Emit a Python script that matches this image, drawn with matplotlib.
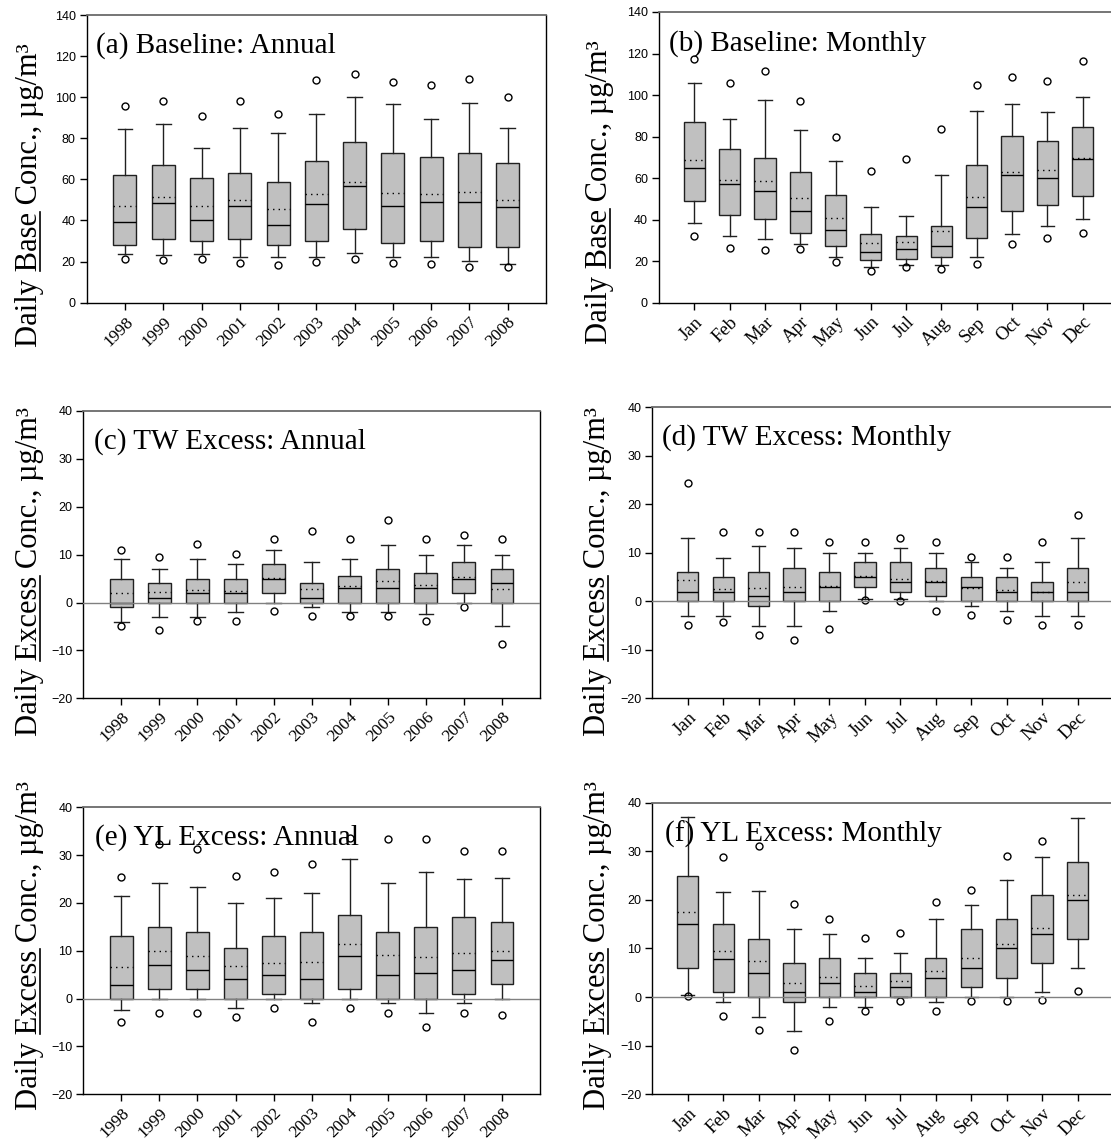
import matplotlib
matplotlib.use("Agg")
import matplotlib.pyplot as plt
from matplotlib.lines import Line2D
import matplotlib.transforms as mtransforms
import numpy as np

years = ['1998', '1999', '2000', '2001', '2002', '2003', '2004', '2005', '2006', '2007', '2008']
months = ['Jan', 'Feb', 'Mar', 'Apr', 'May', 'Jun', 'Jul', 'Aug', 'Sep', 'Oct', 'Nov', 'Dec']

# (a) Baseline: Annual
a_whislo = [23.7, 23.0, 23.7, 22.1, 22.1, 22.1, 24.0, 22.1, 22.1, 20.1, 18.8]
a_q1 = [28.1, 31.1, 30.2, 30.8, 28.1, 30.2, 35.9, 29.0, 30.2, 27.1, 26.9]
a_med = [39.1, 48.3, 40.1, 47.0, 38.0, 48.2, 56.9, 47.2, 49.2, 49.2, 46.6]
a_mean = [47.2, 51.6, 46.9, 49.8, 45.4, 52.9, 58.9, 53.2, 52.7, 53.7, 49.8]
a_q3 = [62.1, 67.2, 60.5, 62.9, 58.9, 69.1, 78.4, 73.0, 71.1, 73.0, 68.1]
a_whishi = [84.5, 87.1, 75.1, 84.8, 82.4, 92.0, 100.3, 96.5, 89.2, 97.0, 85.2]
a_out_lo = [21.4, 20.6, 21.4, 19.5, 18.5, 19.8, 21.4, 19.5, 18.8, 17.5, 17.5]
a_out_hi = [95.9, 98.3, 91.0, 98.0, 92.0, 108.5, 111.1, 107.2, 105.9, 109.0, 100.3]

# (b) Baseline: Monthly
b_whislo = [38.2, 32.1, 30.6, 28.1, 22.0, 17.0, 18.1, 18.1, 22.0, 33.2, 37.0, 40.1]
b_q1 = [49.1, 42.0, 40.1, 33.7, 27.1, 20.8, 21.0, 22.1, 31.4, 44.1, 47.1, 51.3]
b_med = [65.1, 57.1, 54.0, 44.1, 35.1, 24.2, 26.1, 27.1, 46.0, 61.3, 60.1, 69.1]
b_mean = [68.8, 58.9, 58.5, 50.5, 40.7, 28.9, 29.3, 34.5, 51.0, 62.9, 64.1, 69.8]
b_q3 = [87.1, 74.2, 69.8, 63.0, 52.1, 33.0, 32.1, 37.0, 66.5, 80.2, 78.1, 84.8]
b_whishi = [105.7, 88.7, 97.7, 83.2, 68.3, 46.2, 41.9, 61.3, 92.2, 95.9, 92.0, 99.1]
b_out_lo = [32.2, 26.3, 25.5, 26.0, 19.6, 15.4, 17.3, 16.4, 18.4, 28.5, 31.4, 33.5]
b_out_hi = [117.2, 105.7, 111.6, 97.2, 79.7, 63.5, 69.4, 83.7, 105.0, 108.7, 106.6, 116.4]

# (c) TW Excess: Annual
c_whislo = [-4.0, -3.0, -3.0, -2.0, 0.0, -1.0, -2.0, -2.0, -2.3, 0.0, -5.0]
c_q1 = [-1.0, 0.0, 0.0, 0.0, 2.0, 0.0, 0.0, 0.0, 0.0, 2.0, 0.0]
c_med = [0.0, 1.0, 2.0, 2.0, 5.0, 1.0, 3.0, 3.0, 3.0, 5.0, 4.0]
c_mean = [1.9, 2.1, 2.6, 2.4, 5.1, 2.9, 3.5, 4.4, 3.7, 5.4, 2.8]
c_q3 = [5.0, 4.0, 5.0, 5.0, 8.0, 4.0, 5.5, 7.0, 6.2, 8.5, 7.0]
c_whishi = [9.0, 7.0, 9.0, 8.0, 11.0, 8.4, 9.0, 12.0, 10.0, 12.0, 10.0]
c_out_lo = [-4.8, -5.8, -3.9, -3.9, -1.7, -2.8, -2.8, -2.8, -3.9, -0.9, -8.7]
c_out_hi = [11.0, 9.6, 12.2, 10.1, 13.2, 14.9, 13.2, 17.2, 13.2, 14.2, 13.2]

# (d) TW Excess: Monthly
d_whislo = [-3.0, -3.0, -5.0, -5.0, -2.0, 0.5, 0.5, 0.0, -1.0, -2.0, -3.0, -3.0]
d_q1 = [0.0, 0.0, -1.0, 0.0, 0.0, 3.0, 2.0, 1.0, 0.0, 0.0, 0.0, 0.0]
d_med = [2.0, 2.0, 1.0, 2.0, 3.0, 5.0, 4.0, 4.0, 3.0, 2.0, 2.0, 2.0]
d_mean = [4.4, 2.5, 2.7, 2.9, 3.1, 5.2, 4.7, 4.2, 2.8, 2.4, 2.0, 3.9]
d_q3 = [6.0, 5.0, 6.0, 6.9, 6.0, 8.0, 8.0, 6.9, 5.0, 5.0, 4.0, 6.9]
d_whishi = [13.0, 9.0, 11.5, 11.0, 10.0, 10.0, 11.0, 10.0, 8.0, 6.9, 8.0, 13.0]
d_out_lo = [-4.9, -4.3, -6.9, -7.9, -5.8, 0.2, 0.1, -1.9, -2.9, -3.9, -4.9, -4.9]
d_out_hi = [24.3, 14.2, 14.2, 14.2, 12.2, 12.2, 13.0, 12.2, 9.2, 9.2, 12.3, 17.7]

# (e) YL Excess: Annual
e_whislo = [-2.4, 0.0, 0.0, -2.0, 0.0, -1.0, 0.0, -1.0, -3.0, -1.0, 0.0]
e_q1 = [0.0, 2.0, 2.0, 0.0, 1.0, 0.0, 2.0, 0.0, 0.0, 1.0, 3.0]
e_med = [2.9, 7.0, 6.0, 4.0, 5.0, 4.0, 8.9, 5.0, 5.4, 6.0, 8.0]
e_mean = [6.6, 10.0, 8.9, 6.8, 7.5, 7.6, 11.4, 9.1, 8.6, 9.6, 9.9]
e_q3 = [13.0, 15.0, 14.0, 10.5, 13.0, 14.0, 17.5, 14.0, 15.0, 17.0, 16.0]
e_whishi = [21.4, 24.1, 23.4, 20.0, 21.1, 22.1, 29.1, 24.1, 26.4, 25.1, 25.3]
e_out_lo = [-4.9, -2.9, -2.9, -3.9, -1.9, -4.9, -1.9, -2.9, -6.0, -2.9, -3.5]
e_out_hi = [25.4, 32.3, 31.3, 25.7, 26.4, 28.2, 33.6, 33.3, 33.3, 30.9, 30.9]

# (f) YL Excess: Monthly
f_whislo = [0.5, -1.0, -4.0, -7.0, -2.0, -2.0, 0.0, -1.0, 0.0, 0.0, 1.0, 6.0]
f_q1 = [6.0, 1.0, 0.0, -1.0, 0.0, 0.0, 0.0, 0.0, 2.0, 4.0, 7.0, 12.0]
f_med = [15.0, 7.9, 5.0, 1.0, 3.0, 1.0, 2.0, 4.0, 6.0, 10.0, 12.9, 19.9]
f_mean = [17.5, 9.5, 7.5, 2.8, 4.2, 2.3, 3.4, 5.3, 8.0, 10.9, 14.2, 21.1]
f_q3 = [24.9, 15.0, 12.0, 7.0, 8.0, 5.0, 5.0, 8.0, 14.0, 16.0, 21.0, 27.9]
f_whishi = [37.1, 21.6, 21.9, 14.1, 12.9, 8.0, 9.0, 16.0, 18.9, 24.0, 28.9, 36.9]
f_out_lo = [0.15, -3.8, -6.8, -10.8, -4.9, -2.8, -0.8, -2.8, -0.8, -0.8, -0.6, 1.2]
f_out_hi = [None, 28.9, 31.1, 19.2, 16.1, 12.1, 13.2, 19.5, 22.1, 29.1, 32.1, None]

titles = ['(a) Baseline: Annual', '(b) Baseline: Monthly', '(c) TW Excess: Annual',
          '(d) TW Excess: Monthly', '(e) YL Excess: Annual', '(f) YL Excess: Monthly']


def make_stats(wlo, q1, med, mean, q3, whi, olo, ohi):
    stats = []
    for i in range(len(med)):
        fl = [v for v in (olo[i], ohi[i]) if v is not None]
        stats.append(dict(whislo=wlo[i], q1=q1[i], med=med[i], mean=mean[i],
                          q3=q3[i], whishi=whi[i], fliers=np.array(fl)))
    return stats


W, H = 1111, 1142
fig = plt.figure(figsize=(W / 100, H / 100), dpi=100)


def px_axes(left, top, right, bottom):
    return fig.add_axes([left / W, 1 - bottom / H, (right - left) / W, (bottom - top) / H])


SERIF = 'Liberation Serif'
SANS = 'Liberation Sans'


def draw(ax, labels, stats, ylim, yticks, title, zero, tx, ty, xfs):
    pos = np.arange(1, len(labels) + 1)
    ax.bxp(stats, positions=pos, widths=0.6, capwidths=0.38, patch_artist=True,
           showmeans=True, meanline=True, showfliers=True,
           boxprops=dict(facecolor='#c0c0c0', edgecolor='#202020', linewidth=1.0),
           medianprops=dict(color='#000000', linewidth=1.0),
           meanprops=dict(color='#000000', linestyle=(0, (1, 3)), linewidth=1.0),
           whiskerprops=dict(color='#202020', linewidth=1.0),
           capprops=dict(color='#202020', linewidth=1.0),
           flierprops=dict(marker='o', markerfacecolor='none', markeredgecolor='black',
                           markersize=5, markeredgewidth=1.0))
    if zero:
        ax.axhline(0, color='#808080', linewidth=1.0, zorder=4)
    ax.set_xlim(0, len(labels) + 1)
    ax.set_ylim(*ylim)
    ax.set_yticks(yticks)
    ax.set_xticks(pos)
    ax.set_xticklabels(labels, rotation=45, ha='right', va='top', rotation_mode='anchor',
                       family=SERIF, fontsize=xfs)
    shift = mtransforms.ScaledTranslation(4 / 72, 1.5 / 72, fig.dpi_scale_trans)
    for lab in ax.get_xticklabels():
        lab.set_transform(lab.get_transform() + shift)
    for lab in ax.get_yticklabels():
        lab.set_family(SANS)
        lab.set_fontsize(9)
    ax.tick_params(direction='out', length=5, width=1, color='black')
    ax.tick_params(axis='x', pad=3)
    ax.tick_params(axis='y', pad=3)
    for s in ['left', 'bottom', 'right']:
        ax.spines[s].set_color('black')
        ax.spines[s].set_linewidth(1.0)
    ax.spines['top'].set_color('#6a6a6a')
    ax.spines['top'].set_linewidth(1.3)
    ax.text(tx, ty, title, transform=ax.transAxes, family=SERIF, fontsize=21,
            ha='left', va='baseline', zorder=10)


ax_a = px_axes(86.7, 15, 546, 302.7)
ax_b = px_axes(659, 12, 1118, 302.7)
ax_c = px_axes(83.3, 411, 540, 698.3)
ax_d = px_axes(652.3, 407.3, 1113, 698.3)
ax_e = px_axes(83.3, 807.3, 540, 1094.3)
ax_f = px_axes(652.3, 802.7, 1113, 1094.3)

YF, MF = 12.5, 13.5
draw(ax_a, years, make_stats(a_whislo, a_q1, a_med, a_mean, a_q3, a_whishi, a_out_lo, a_out_hi),
     (0, 140), range(0, 141, 20), titles[0], False, 0.02, 0.868, YF)
draw(ax_b, months, make_stats(b_whislo, b_q1, b_med, b_mean, b_q3, b_whishi, b_out_lo, b_out_hi),
     (0, 140), range(0, 141, 20), titles[1], False, 0.022, 0.868, MF)
draw(ax_c, years, make_stats(c_whislo, c_q1, c_med, c_mean, c_q3, c_whishi, c_out_lo, c_out_hi),
     (-20, 40), range(-20, 41, 10), titles[2], True, 0.024, 0.870, YF)
draw(ax_d, months, make_stats(d_whislo, d_q1, d_med, d_mean, d_q3, d_whishi, d_out_lo, d_out_hi),
     (-20, 40), range(-20, 41, 10), titles[3], True, 0.022, 0.870, MF)
draw(ax_e, years, make_stats(e_whislo, e_q1, e_med, e_mean, e_q3, e_whishi, e_out_lo, e_out_hi),
     (-20, 40), range(-20, 41, 10), titles[4], True, 0.026, 0.871, YF)
draw(ax_f, months, make_stats(f_whislo, f_q1, f_med, f_mean, f_q3, f_whishi, f_out_lo, f_out_hi),
     (-20, 40), range(-20, 41, 10), titles[5], True, 0.0275, 0.866, MF)

# y labels (with underlined keyword)
YFS = 22
ylabels = [
    (30, 195, 'Daily ', 'Base', ' Conc., \u00b5g/m\u00b3'),
    (600, 192, 'Daily ', 'Base', ' Conc., \u00b5g/m\u00b3'),
    (30, 572, 'Daily ', 'Excess', ' Conc., \u00b5g/m\u00b3'),
    (598, 572, 'Daily ', 'Excess', ' Conc., \u00b5g/m\u00b3'),
    (30, 945, 'Daily ', 'Excess', ' Conc., \u00b5g/m\u00b3'),
    (598, 945, 'Daily ', 'Excess', ' Conc., \u00b5g/m\u00b3'),
]
texts = []
for x, y, pre, word, post in ylabels:
    t = fig.text(x / W, 1 - y / H, pre + word + post, rotation=90, ha='center', va='center',
                 family=SERIF, fontsize=YFS)
    texts.append((t, pre, word))

fig.canvas.draw()
r = fig.canvas.get_renderer()
em = YFS * fig.dpi / 72.0
for t, pre, word in texts:
    bb = t.get_window_extent(r)
    prop = t.get_fontproperties()
    w_full, _, _ = r.get_text_width_height_descent(pre + word, prop, ismath=False)
    w_word, _, _ = r.get_text_width_height_descent(word, prop, ismath=False)
    _, _, d = r.get_text_width_height_descent('lp', prop, ismath=False)
    ys0 = bb.y0 + (w_full - w_word)
    ys1 = bb.y0 + w_full
    xb = bb.x1 - d + 0.09 * em
    p = fig.transFigure.inverted().transform([(xb, ys0), (xb, ys1)])
    fig.add_artist(Line2D(p[:, 0], p[:, 1], color='black', linewidth=1.2,
                          transform=fig.transFigure))

fig.savefig('out.png', dpi=100)
